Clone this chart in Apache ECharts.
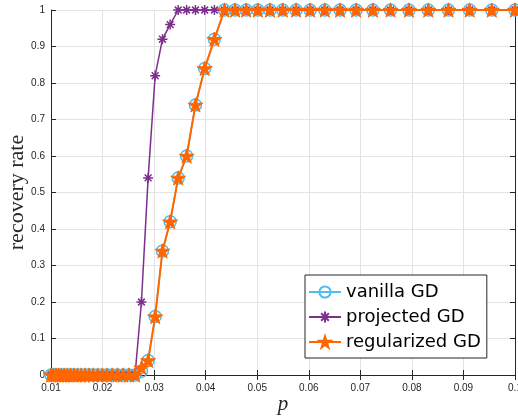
<!DOCTYPE html>
<html>
<head>
<meta charset="utf-8">
<script src="https://cdn.jsdelivr.net/npm/echarts@6/dist/echarts.min.js"></script>
<style>
html,body{margin:0;padding:0;background:#fff;}
#chart{width:518px;height:417px;}
</style>
</head>
<body>
<div id="chart"></div>
<script>
// p values (log-spaced)
const p = [0.0100,0.01047,0.01096,0.01148,0.01202,0.01259,0.01318,0.01380,0.01445,0.01514,
  0.01585,0.01660,0.01738,0.01820,0.01905,0.01995,0.02089,0.02188,0.02291,0.02399,
  0.02512,0.02630,0.02754,0.02884,0.03020,0.03162,0.03311,0.03467,0.03631,0.03802,
  0.03981,0.04169,0.04365,0.04571,0.04786,0.05012,0.05248,0.05495,0.05754,0.06026,
  0.06310,0.06607,0.06918,0.07244,0.07586,0.07943,0.08318,0.08710,0.09120,0.09550,0.1000];
const vanilla = [0,0,0,0,0,0,0,0,0,0, 0,0,0,0,0,0,0,0,0,0, 0,0,0.01,0.04,0.16,0.34,0.42,0.54,0.60,0.74,
  0.84,0.92,1,1,1,1,1,1,1,1, 1,1,1,1,1,1,1,1,1,1,1];
const projected = [0,0,0,0,0,0,0,0,0,0, 0,0,0,0,0,0,0,0,0,0, 0,0,0.20,0.54,0.82,0.92,0.96,1,1,1,
  1,1,1,1,1,1,1,1,1,1, 1,1,1,1,1,1,1,1,1,1,1];
const regularized = [0,0,0,0,0,0,0,0,0,0, 0,0,0,0,0,0,0,0,0,0, 0,0,0.02,0.04,0.16,0.34,0.42,0.54,0.60,0.74,
  0.84,0.92,1,1,1,1,1,1,1,1, 1,1,1,1,1,1,1,1,1,1,1];
const xTickLabels = ['0.01','0.02','0.03','0.04','0.05','0.06','0.07','0.08','0.09','0.1'];
const yTickLabels = ['0','0.1','0.2','0.3','0.4','0.5','0.6','0.7','0.8','0.9','1'];
const seriesNames = ['vanilla GD','projected GD','regularized GD'];

const axisColor = '#262626';
const gridColor = '#e3e3e3';
const asterisk = 'path://M5,0L5,10M0,5L10,5M1.6,1.6L8.4,8.4M1.6,8.4L8.4,1.6';
const star = 'path://M50,0L61.2,34.5L97.6,34.5L68.2,55.9L79.4,90.5L50,69.1L20.6,90.5L31.8,55.9L2.4,34.5L38.8,34.5Z';

const xFmt = v => xTickLabels[Math.round(v*100)-1] || '';
const yFmt = v => yTickLabels[Math.round(v*10)] || '';

const chart = echarts.init(document.getElementById('chart'), null, {renderer:'canvas'});
chart.setOption({
  animation:false,
  backgroundColor:'#fff',
  grid:{left:51,right:3,top:10,bottom:42,containLabel:false,outerBoundsMode:'none'},
  xAxis:[{
    type:'value',min:0.01,max:0.1,interval:0.01,position:'bottom',
    name:'p',nameLocation:'middle',nameGap:19,nameMoveOverlap:false,
    nameTextStyle:{fontFamily:'Liberation Serif',fontStyle:'italic',fontSize:21,color:axisColor},
    axisLine:{show:true,lineStyle:{color:axisColor,width:1}},
    axisTick:{show:true,inside:true,length:5,lineStyle:{color:axisColor}},
    axisLabel:{formatter:xFmt,fontFamily:'Liberation Sans',fontSize:10,color:axisColor,margin:8},
    splitLine:{show:true,lineStyle:{color:gridColor,width:1}}
  },{
    type:'value',min:0.01,max:0.1,interval:0.01,position:'top',
    axisLine:{show:true,lineStyle:{color:axisColor,width:1}},
    axisTick:{show:true,inside:true,length:5,lineStyle:{color:axisColor}},
    axisLabel:{show:false},splitLine:{show:false}
  }],
  yAxis:[{
    type:'value',min:0,max:1,interval:0.1,position:'left',
    name:'recovery rate',nameLocation:'middle',nameGap:23,nameMoveOverlap:false,
    nameTextStyle:{fontFamily:'Liberation Serif',fontSize:22,color:axisColor},
    axisLine:{show:true,lineStyle:{color:axisColor,width:1}},
    axisTick:{show:true,inside:true,length:5,lineStyle:{color:axisColor}},
    axisLabel:{formatter:yFmt,fontFamily:'Liberation Sans',fontSize:10,color:axisColor,margin:6},
    splitLine:{show:true,lineStyle:{color:gridColor,width:1}}
  },{
    type:'value',min:0,max:1,interval:0.1,position:'right',
    axisLine:{show:true,lineStyle:{color:axisColor,width:1}},
    axisTick:{show:true,inside:true,length:5,lineStyle:{color:axisColor}},
    axisLabel:{show:false},splitLine:{show:false}
  }],
  legend:{
    orient:'vertical',left:305,top:275,
    data:seriesNames,
    itemWidth:32,itemHeight:14,itemGap:7,
    padding:[8,6,7,3],
    backgroundColor:'#fff',borderColor:axisColor,borderWidth:1,
    textStyle:{fontFamily:'DejaVu Sans',fontSize:18,color:'#000'}
  },
  series:[{
    name:seriesNames[0],type:'line',clip:false,
    data:p.map((x,i)=>[x,vanilla[i]]),
    symbol:'circle',symbolSize:12,
    lineStyle:{color:'#4DBEEE',width:1.5},
    itemStyle:{color:'rgba(255,255,255,0)',borderColor:'#4DBEEE',borderWidth:1.5},
    z:2
  },{
    name:seriesNames[1],type:'line',clip:false,
    data:p.map((x,i)=>[x,projected[i]]),
    symbol:asterisk,symbolSize:10,
    lineStyle:{color:'#7E2F8E',width:1.5},
    itemStyle:{color:'#7E2F8E',borderColor:'#7E2F8E',borderWidth:1.5},
    z:3
  },{
    name:seriesNames[2],type:'line',clip:false,
    data:p.map((x,i)=>[x,regularized[i]]),
    symbol:star,symbolSize:15,symbolKeepAspect:true,
    lineStyle:{color:'#FF6600',width:2},
    itemStyle:{color:'#FF6600',borderColor:'#FF6600',borderWidth:1},
    z:4
  }]
});
</script>
</body>
</html>
